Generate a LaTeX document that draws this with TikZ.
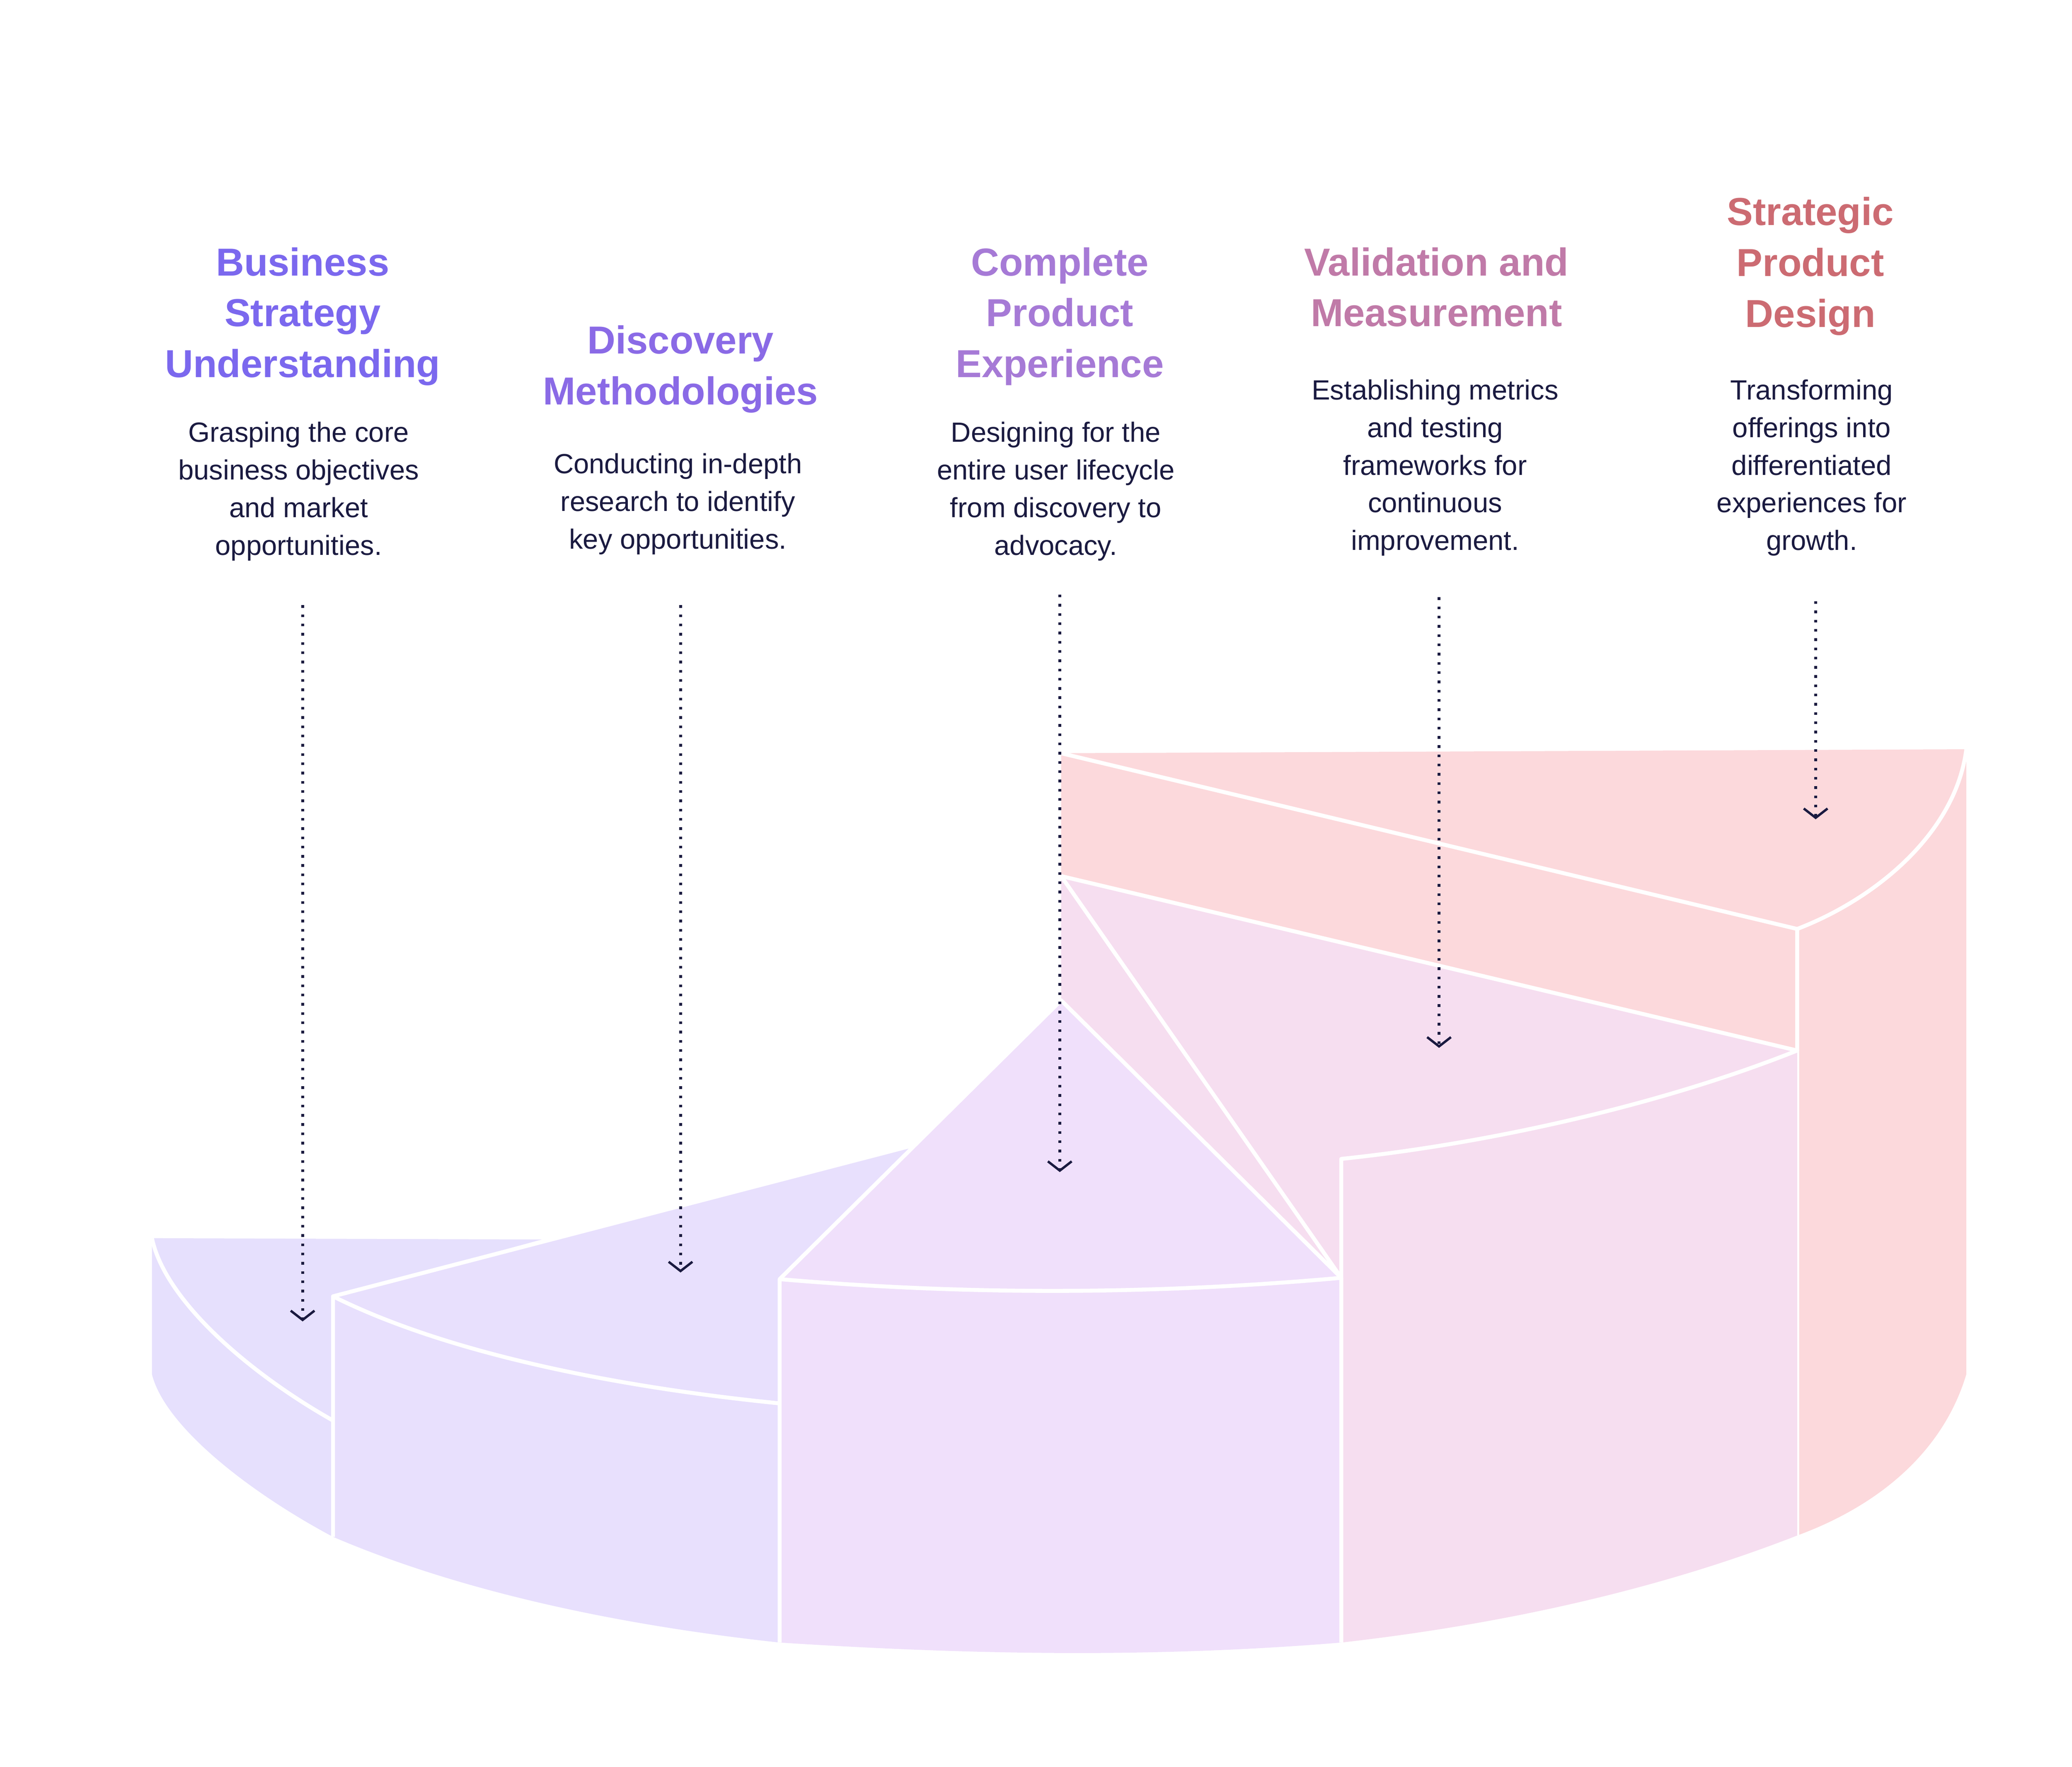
\documentclass[tikz,border=0pt]{standalone}
\usepackage{fontspec}
\setmainfont{Liberation Sans}
\usetikzlibrary{arrows.meta}
\definecolor{ink}{HTML}{1A1A40}
\definecolor{cA}{HTML}{7B68EE}
\definecolor{cB}{HTML}{8A6AE6}
\definecolor{cC}{HTML}{A67AD6}
\definecolor{cD}{HTML}{C07AA8}
\definecolor{cE}{HTML}{CC6B72}
\definecolor{fA}{HTML}{E6E0FD}
\definecolor{fB}{HTML}{E8E0FD}
\definecolor{fC}{HTML}{F0E0FB}
\definecolor{fD}{HTML}{F6DEF0}
\definecolor{fE}{HTML}{FCD9DC}
\begin{document}
\begin{tikzpicture}[x=1pt,y=-1pt,
  ttl/.style={font=\bfseries\fontsize{29.5}{38.5}\selectfont,align=center,anchor=north,inner sep=0pt},
  dsc/.style={font=\fontsize{21}{28.5}\selectfont,text=ink,align=center,anchor=north,inner sep=0pt},
  wl/.style={draw=white,line width=3pt,line join=round},
  ptr/.style={draw=ink,line width=2.2pt,dash pattern=on 2pt off 5pt,-{Straight Barb[length=7pt,width=18pt,line width=1.8pt]}}]
\useasboundingbox (0,0) rectangle (1568,1337);
% back pink
\fill[fE] (803,570) -- (1488,567) -- (1488,1040) .. controls (1470,1100) and (1420,1140) .. (1360,1162) -- (1360,795) -- (803,663) -- cycle;
\draw[wl] (803,570) -- (1360,703) -- (1360,1162);
\draw[wl] (1488,567) .. controls (1480,630) and (1420,680) .. (1360,703);
% segment 4
\fill[fD] (803,663) -- (1360,795) -- (1360,1162) .. controls (1250,1205) and (1130,1230) .. (1015,1243) -- (1015,967) -- (803,757) -- cycle;
\draw[wl] (803,663) -- (1360,795) .. controls (1260,835) and (1130,865) .. (1015,877) -- (1015,1243);
\draw[wl] (803,663) -- (1015,967);
% segment 1
\fill[fA] (115,937) -- (410,938) -- (252,981) -- (252,1163) .. controls (190,1130) and (125,1080) .. (115,1040) -- cycle;
\draw[wl] (115,937) .. controls (125,985) and (190,1040) .. (252,1075);
% segment 2
\fill[fB] (252,981) -- (690,867) -- (590,968) -- (590,1243) .. controls (470,1230) and (350,1205) .. (252,1163) -- cycle;
\draw[wl] (252,1163) -- (252,981) -- (690,867);
\draw[wl] (252,981) .. controls (340,1025) and (470,1050) .. (590,1062);
% segment 3
\fill[fC] (803,757) -- (1015,967) -- (1015,1243) .. controls (870,1255) and (730,1252) .. (590,1243) -- (590,968) -- cycle;
\draw[wl] (1015,1243) -- (1015,967) -- (803,757) -- (590,968) -- (590,1243);
\draw[wl] (590,968) .. controls (730,980) and (870,980) .. (1015,967);
% titles
\node[ttl,text=cA] (t1) at (229,187) {Business\\Strategy\\Understanding};
\node[ttl,text=cB] (t2) at (515,246) {Discovery\\Methodologies};
\node[ttl,text=cC] (t3) at (802,187) {Complete\\Product\\Experience};
\node[ttl,text=cD] (t4) at (1087,187) {Validation and\\Measurement};
\node[ttl,text=cE] (t5) at (1370,149) {Strategic\\Product\\Design};
% descriptions
\node[dsc] (d1) at (226,319) {Grasping the core\\business objectives\\and market\\opportunities.};
\node[dsc] (d2) at (513,343) {Conducting in-depth\\research to identify\\key opportunities.};
\node[dsc] (d3) at (799,319) {Designing for the\\entire user lifecycle\\from discovery to\\advocacy.};
\node[dsc] (d4) at (1086,287) {Establishing metrics\\and testing\\frameworks for\\continuous\\improvement.};
\node[dsc] (d5) at (1371,287) {Transforming\\offerings into\\differentiated\\experiences for\\growth.};
% pointers
\coordinate (e1) at (229,1000); \coordinate (e2) at (515,963); \coordinate (e3) at (802,887);
\coordinate (e4) at (1089,793); \coordinate (e5) at (1374,620);
\draw[ptr] (229,458) -- (e1);
\draw[ptr] (515,458) -- (e2);
\draw[ptr] (802,450) -- (e3);
\draw[ptr] (1089,452) -- (e4);
\draw[ptr] (1374,455) -- (e5);
\end{tikzpicture}
\end{document}
